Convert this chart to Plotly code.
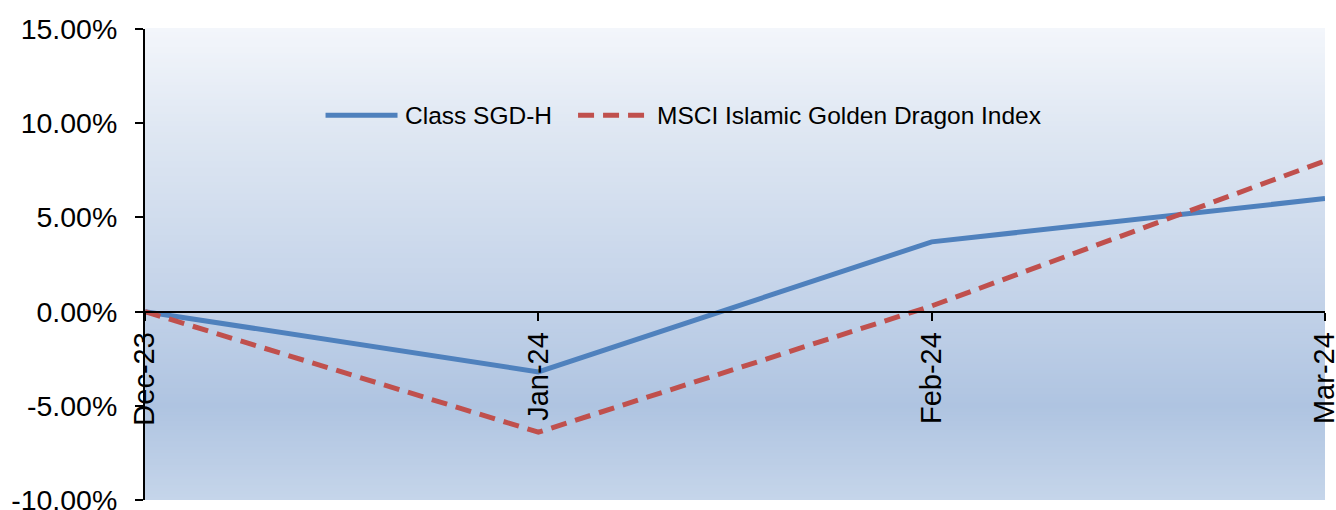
import plotly.graph_objects as go

# Cumulative performance, month-end
months = ["Dec-23", "Jan-24", "Feb-24", "Mar-24"]
class_sgd_h = [0.0, -3.2, 3.7, 6.0]
msci_index = [0.0, -6.4, 0.3, 8.0]
series_names = ["Class SGD-H", "MSCI Islamic Golden Dragon Index"]
y_ticks = [-10, -5, 0, 5, 10, 15]
y_tick_text = ["-10.00%", "-5.00%", "0.00%", "5.00%", "10.00%", "15.00%"]

FONT = "Liberation Sans, Arial, sans-serif"
BLUE = "#4F81BD"
RED = "#C0504D"
DASH = "16px,9px"

fig = go.Figure()
fig.add_trace(go.Scatter(
    x=list(range(len(months))), y=class_sgd_h, mode="lines", name=series_names[0],
    line=dict(color=BLUE, width=5),
))
fig.add_trace(go.Scatter(
    x=list(range(len(months))), y=msci_index, mode="lines", name=series_names[1],
    line=dict(color=RED, width=5, dash=DASH),
))

# Vertical gradient fill of the plotting area (stops: paper-y, rgb)
stops = [
    (1.00, (243, 246, 251)),
    (0.80, (224, 232, 243)),
    (0.40, (193, 209, 232)),
    (0.20, (175, 196, 225)),
    (0.00, (197, 213, 234)),
]

def colour_at(t):
    for (y1, c1), (y0, c0) in zip(stops[:-1], stops[1:]):
        if y0 <= t <= y1:
            f = (t - y0) / (y1 - y0) if y1 > y0 else 0
            return "rgb(%d,%d,%d)" % tuple(round(c0[i] + (c1[i] - c0[i]) * f) for i in range(3))
    return "rgb(%d,%d,%d)" % stops[-1][1]

bands = 160
shapes = []
for k in range(bands):
    y0 = k / bands
    y1 = (k + 1) / bands
    shapes.append(dict(
        type="rect", xref="paper", yref="paper", x0=0, x1=1, y0=y0, y1=y1 + 0.002,
        fillcolor=colour_at((y0 + y1) / 2), line=dict(width=0), layer="below",
    ))

# Legend drawn as sample lines plus labels (paper coordinates)
legend_y = 0.817
legend_items = [
    (0.153, 0.214, 0.219, BLUE, "solid"),
    (0.367, 0.426, 0.432, RED, DASH),
]
annotations = []
for (x0, x1, xt, col, dash), name in zip(legend_items, series_names):
    shapes.append(dict(
        type="line", xref="paper", yref="paper", x0=x0, x1=x1, y0=legend_y, y1=legend_y,
        line=dict(color=col, width=5, dash=dash),
    ))
    annotations.append(dict(
        xref="paper", yref="paper", x=xt, y=legend_y, xanchor="left", yanchor="middle",
        text=name, showarrow=False, font=dict(size=24.5, family=FONT, color="black"),
    ))

zero_pos = (0 - y_ticks[0]) / (y_ticks[-1] - y_ticks[0])

fig.update_layout(
    width=1336, height=510,
    margin=dict(l=145, r=11, t=29, b=10, autoexpand=False),
    paper_bgcolor="white", plot_bgcolor="rgba(0,0,0,0)",
    font=dict(family=FONT, color="black"),
    shapes=shapes,
    annotations=annotations,
    showlegend=False,
    xaxis=dict(
        range=[0, len(months) - 1], tickmode="array",
        tickvals=list(range(len(months))), ticktext=months,
        tickangle=-90, ticks="outside", ticklen=8, tickcolor="black", tickwidth=2,
        showline=True, linecolor="black", linewidth=2,
        showgrid=False, zeroline=False,
        anchor="free", position=zero_pos,
        ticklabeloverflow="allow", automargin=False,
        tickfont=dict(size=29, family=FONT),
    ),
    yaxis=dict(
        range=[y_ticks[0], y_ticks[-1]], tickmode="array",
        tickvals=y_ticks, ticktext=y_tick_text,
        ticks="outside", ticklen=8, tickcolor="black", tickwidth=2,
        showline=True, linecolor="black", linewidth=2,
        showgrid=False, zeroline=False,
        ticklabelstandoff=12, ticklabeloverflow="allow", automargin=False,
        tickfont=dict(size=28.5, family=FONT),
    ),
)

fig.write_html("out.html")
